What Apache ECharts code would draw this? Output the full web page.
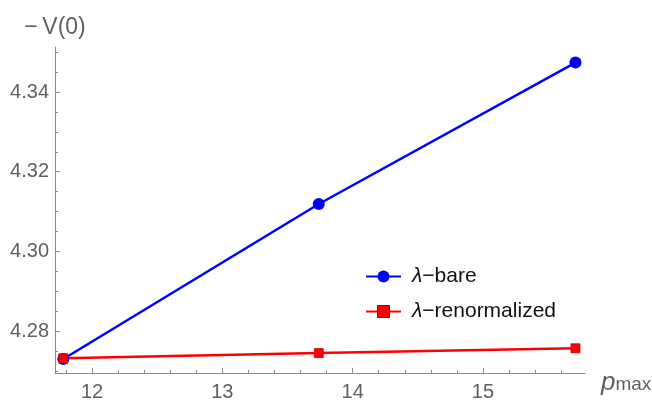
<!DOCTYPE html>
<html>
<head>
<meta charset="utf-8">
<script src="https://cdn.jsdelivr.net/npm/echarts@6/dist/echarts.min.js"></script>
<style>
  html, body { margin: 0; padding: 0; background: #fff; }
  #chart { width: 652px; height: 402px; }
</style>
</head>
<body>
<div id="chart"></div>
<script>
// data
var pMax = [11.78, 13.74, 15.71];
var bareV = [4.2730, 4.3119, 4.3474];
var renormV = [4.2732, 4.2745, 4.2757];
var seriesNames = ['λ−bare', 'λ−renormalized'];
var xMajorTicks = [12, 13, 14, 15];
var yMajorTicks = [4.28, 4.30, 4.32, 4.34];

var xRange = [11.716, 15.783];
var yRange = [4.2695, 4.3513];

// minor ticks, 4 between each major on x, 3 on y
var xMinorTicks = [];
for (var i = 0; i <= 25; i++) {
    var v = +(11.6 + i * 0.2).toFixed(2);
    if (v > xRange[0] && v < xRange[1] && Math.abs(v - Math.round(v)) > 1e-6) xMinorTicks.push(v);
}
var yMinorTicks = [];
for (var j = 0; j <= 20; j++) {
    var w = +(4.265 + j * 0.005).toFixed(3);
    if (w > yRange[0] && w < yRange[1] && yMajorTicks.indexOf(w) < 0) yMinorTicks.push(w);
}

var font = 'Liberation Sans, Arial, sans-serif';
var axisGrey = '#8a8a8a';
var labelGrey = '#606060';

var chart = echarts.init(document.getElementById('chart'));

function makeX(major) {
    return {
        type: 'value',
        min: xRange[0], max: xRange[1],
        position: 'bottom',
        axisLine: { show: major, lineStyle: { color: axisGrey, width: 1 } },
        axisTick: {
            show: true, inside: true, length: major ? 5 : 3,
            customValues: major ? xMajorTicks : xMinorTicks,
            lineStyle: { color: axisGrey }
        },
        axisLabel: {
            show: major, customValues: xMajorTicks, margin: 9,
            color: labelGrey, fontSize: 20, fontFamily: font
        },
        splitLine: { show: false },
        name: major ? '{p|p}{s|max}' : '',
        nameLocation: 'end',
        nameGap: 16,
        nameTextStyle: {
            rich: {
                p: { fontSize: 26, fontStyle: 'italic', color: labelGrey, fontFamily: font, padding: [20, 0, 0, 0] },
                s: { fontSize: 19, color: labelGrey, fontFamily: font, padding: [24, 0, 0, 0] }
            }
        }
    };
}
function makeY(major) {
    return {
        type: 'value',
        min: yRange[0], max: yRange[1],
        position: 'left',
        axisLine: { show: major, lineStyle: { color: axisGrey, width: 1 } },
        axisTick: {
            show: true, inside: true, length: major ? 5 : 3,
            customValues: major ? yMajorTicks : yMinorTicks,
            lineStyle: { color: axisGrey }
        },
        axisLabel: {
            show: major, customValues: yMajorTicks, margin: 6,
            color: labelGrey, fontSize: 20, fontFamily: font,
            formatter: function (v) { return v.toFixed(2); }
        },
        splitLine: { show: false },
        name: major ? '−\u2009V(0)' : '',
        nameLocation: 'end',
        nameGap: 8,
        nameTextStyle: { color: labelGrey, fontSize: 23, fontFamily: font }
    };
}

chart.setOption({
    animation: false,
    grid: { left: 55, right: 67, top: 47, bottom: 29, outerBoundsMode: 'none' },
    xAxis: [makeX(true), makeX(false)],
    yAxis: [makeY(true), makeY(false)],
    legend: {
        orient: 'vertical',
        left: 360, top: 261,
        itemWidth: 35, itemHeight: 15, itemGap: 14,
        formatter: function (name) {
            return '{i|λ}{t|' + name.slice(1) + '}';
        },
        textStyle: {
            fontSize: 21, lineHeight: 21, color: '#111', fontFamily: font, padding: [0, 0, 0, 6],
            rich: {
                i: { fontSize: 21, fontStyle: 'italic', color: '#111', fontFamily: font },
                t: { fontSize: 21, color: '#111', fontFamily: font }
            }
        },
        data: [
            { name: seriesNames[0] },
            { name: seriesNames[1], itemStyle: { borderColor: '#a00000', borderWidth: 1 } }
        ]
    },
    series: [
        {
            name: seriesNames[0], type: 'line',
            data: pMax.map(function (x, k) { return [x, bareV[k]]; }),
            symbol: 'circle', symbolSize: 12,
            lineStyle: { color: '#0000ff', width: 2.5 },
            itemStyle: { color: '#0000ff' }
        },
        {
            name: seriesNames[1], type: 'line',
            data: pMax.map(function (x, k) { return [x, renormV[k]]; }),
            symbol: 'rect', symbolSize: 9,
            lineStyle: { color: '#ff0000', width: 2.5 },
            itemStyle: { color: '#ff0000', borderColor: '#c00000', borderWidth: 0.8 }
        }
    ]
});
</script>
</body>
</html>
